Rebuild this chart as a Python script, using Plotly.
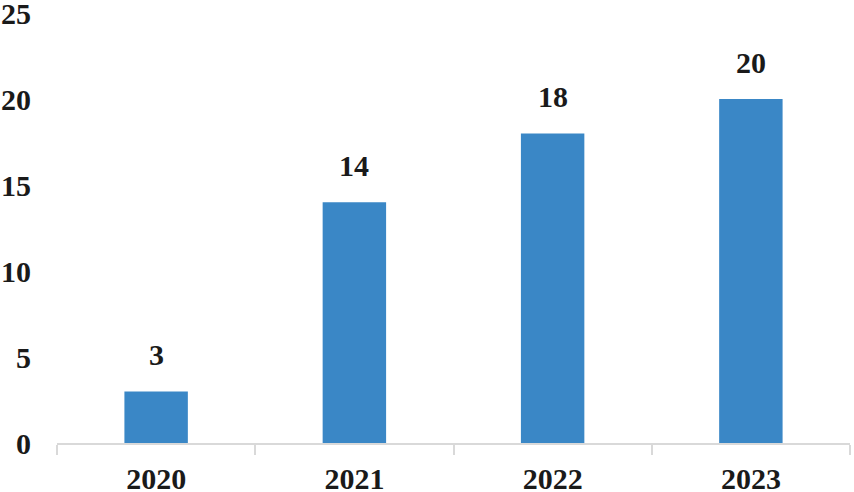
import plotly.graph_objects as go

years = ["2020", "2021", "2022", "2023"]
values = [3, 14, 18, 20]
y_ticks = [0, 5, 10, 15, 20, 25]

bar_color = "#3A87C6"
font_family = "Liberation Serif, Times New Roman, serif"
txt = dict(family=font_family, size=30, color="#1a1a1a", weight="bold")

fig = go.Figure()
fig.add_trace(go.Bar(
    x=years, y=values, marker_color=bar_color, width=0.32,
    marker_line_width=0, hoverinfo="skip",
))

# category axes place annotations by category index
for i, yv in enumerate(values):
    fig.add_annotation(
        x=i, y=yv, text=str(yv), showarrow=False,
        yanchor="bottom", yshift=18, font=txt,
    )

fig.update_layout(
    width=854, height=492,
    margin=dict(l=57, r=4, t=13, b=49, autoexpand=False),
    paper_bgcolor="white", plot_bgcolor="white",
    showlegend=False,
    font=txt,
)
fig.update_xaxes(
    type="category", tickson="boundaries", ticks="outside", ticklen=10,
    tickcolor="#D9D9D9", tickwidth=2, showline=True, linecolor="#D9D9D9",
    linewidth=2, showgrid=False, tickangle=0, ticklabeloverflow="allow",
    ticklabelstandoff=8, tickfont=txt,
)
fig.update_yaxes(
    range=[0, 25], tickvals=y_ticks,
    showgrid=False, showline=False, zeroline=False,
    ticks="outside", ticklen=19, tickcolor="rgba(0,0,0,0)",
    ticklabeloverflow="allow", tickfont=txt,
)

fig.write_html("out.html", config={"displayModeBar": False},
               post_script="document.body.style.margin='0';")
